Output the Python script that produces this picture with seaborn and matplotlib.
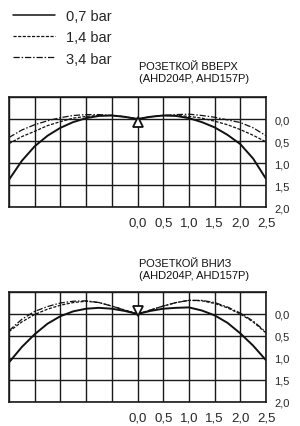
import numpy as np
import pandas as pd
import seaborn as sns
import matplotlib
matplotlib.use("Agg")
import matplotlib.pyplot as plt
from matplotlib.lines import Line2D

# horizontal position (m)
x = [-2.5, -2.25, -2.0, -1.75, -1.5, -1.25, -1.0, -0.75, -0.5, -0.25, 0.0,
     0.25, 0.5, 0.75, 1.0, 1.25, 1.5, 1.75, 2.0, 2.25, 2.5]

pressures = ["0,7 bar", "1,4 bar", "3,4 bar"]

# rosette up
up_07 = [1.38, 0.95, 0.62, 0.38, 0.20, 0.07, -0.02, -0.07, -0.08, -0.05, 0.0,
         -0.05, -0.08, -0.07, -0.02, 0.07, 0.19, 0.36, 0.57, 0.90, 1.36]
up_14 = [0.56, 0.40, 0.28, 0.15, 0.06, -0.02, -0.06, -0.08, -0.08, -0.05, 0.0,
         -0.05, -0.08, -0.08, -0.06, -0.02, 0.05, 0.13, 0.24, 0.37, 0.52]
up_34 = [0.42, 0.25, 0.13, 0.04, -0.03, -0.08, -0.10, -0.10, -0.08, -0.05, 0.0,
         -0.05, -0.08, -0.10, -0.11, -0.08, -0.04, 0.02, 0.08, 0.20, 0.38]

# rosette down
down_07 = [1.10, 0.75, 0.46, 0.22, 0.05, -0.06, -0.12, -0.14, -0.12, -0.07, 0.0,
           -0.07, -0.12, -0.14, -0.15, -0.08, 0.03, 0.20, 0.44, 0.72, 1.05]
down_14 = [0.40, 0.18, 0.01, -0.11, -0.20, -0.26, -0.29, -0.26, -0.18, -0.09, 0.0,
           -0.09, -0.18, -0.26, -0.31, -0.30, -0.24, -0.14, 0.0, 0.18, 0.43]
down_34 = [0.38, 0.12, -0.06, -0.17, -0.25, -0.29, -0.30, -0.26, -0.18, -0.09, 0.0,
           -0.09, -0.18, -0.26, -0.31, -0.31, -0.26, -0.16, -0.02, 0.16, 0.41]

titles = ["РОЗЕТКОЙ ВВЕРХ\n(AHD204P, AHD157P)", "РОЗЕТКОЙ ВНИЗ\n(AHD204P, AHD157P)"]
x_ticks = [-2.5, -2.0, -1.5, -1.0, -0.5, 0.0, 0.5, 1.0, 1.5, 2.0, 2.5]
x_labels = ["", "", "", "", "", "0,0", "0,5", "1,0", "1,5", "2,0", "2,5"]
y_ticks = [-0.5, 0.0, 0.5, 1.0, 1.5, 2.0]
y_labels = ["", "0,0", "0,5", "1,0", "1,5", "2,0"]


def make_df(a, b, c):
    rows = []
    for p, vals in zip(pressures, [a, b, c]):
        for xi, yi in zip(x, vals):
            rows.append({"x": xi, "y": yi, "p": p})
    return pd.DataFrame(rows)


sns.set_style("white")
plt.rcParams["font.family"] = ["Liberation Sans", "DejaVu Sans"]

fig = plt.figure(figsize=(3.0, 4.27), dpi=100)
ax_up = fig.add_axes([9 / 300, 1 - 208 / 427, 257 / 300, 110 / 427])
ax_dn = fig.add_axes([9 / 300, 1 - 403 / 427, 257 / 300, 110 / 427])

styles = {"0,7 bar": "", "1,4 bar": (2.5, 1.2), "3,4 bar": (5, 1.5, 1.2, 1.5)}
widths = {"0,7 bar": 1.4, "1,4 bar": 0.9, "3,4 bar": 0.9}

for ax, df, mk, my, ttl, ty in [
    (ax_up, make_df(up_07, up_14, up_34), "^", 0.07, titles[0], 1 - 73 / 427),
    (ax_dn, make_df(down_07, down_14, down_34), "v", -0.07, titles[1], 1 - 270 / 427),
]:
    for p in pressures:
        sub = df[df["p"] == p]
        sns.lineplot(data=sub, x="x", y="y", ax=ax, color="#111111",
                     lw=widths[p], dashes=False, legend=False)
        if styles[p]:
            ax.lines[-1].set_dashes(styles[p])
    ax.plot([0], [my], marker=mk, ms=7, mfc="white", mec="#111111", mew=1.3)
    ax.set_xlim(-2.5, 2.5)
    ax.set_ylim(2.0, -0.5)
    ax.set_xticks(x_ticks)
    ax.set_xticklabels(x_labels, family=["Liberation Sans Narrow", "Liberation Sans"],
                       fontsize=9.5)
    ax.set_yticks(y_ticks)
    ax.set_yticklabels(y_labels, fontsize=8)
    ax.yaxis.tick_right()
    ax.tick_params(axis="both", length=0)
    ax.tick_params(axis="x", pad=7)
    ax.tick_params(axis="y", pad=6)
    ax.grid(True, color="#1a1a1a", lw=1.0)
    for s in ax.spines.values():
        s.set_visible(True)
        s.set_color("#1a1a1a")
        s.set_linewidth(1.2)
    ax.set_xlabel("")
    ax.set_ylabel("")
    fig.text(139 / 300, ty, ttl, fontsize=8, ha="left", va="center",
             linespacing=1.15, color="#111111")

handles = [Line2D([], [], color="#111111", lw=1.1 if p == "0,7 bar" else 0.9)
           for p in pressures]
handles[1].set_dashes(styles["1,4 bar"])
handles[2].set_dashes(styles["3,4 bar"])
fig.legend(handles, pressures, loc="upper left", bbox_to_anchor=(13 / 300, 1 - 10 / 427),
           frameon=False, fontsize=10.5, handlelength=2.9, handletextpad=0.7,
           labelspacing=0.5, borderpad=0, borderaxespad=0)

fig.savefig("out.png", dpi=100)
